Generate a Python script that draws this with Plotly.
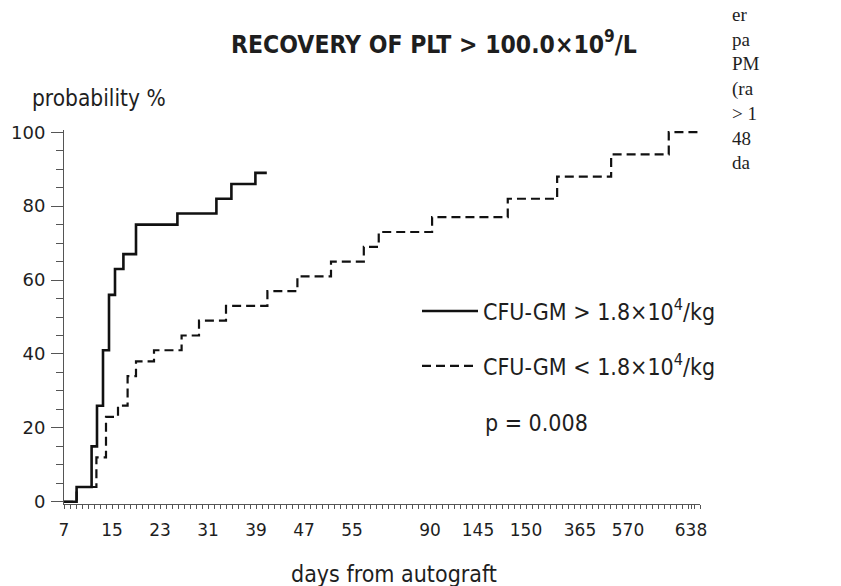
import numpy as np
import plotly.graph_objects as go

# ---- axis scale (non-linear day axis as printed) ----
tick_days = [7, 15, 23, 31, 39, 47, 55, 90, 145, 150, 365, 570, 638]
tick_index = [0, 8, 16, 24, 32, 40, 48, 61, 69, 77, 86, 94, 104.5]
y_ticks = [0, 20, 40, 60, 80, 100]

# ---- data: cumulative probability (%) of PLT recovery ----
high_days = [7, 9.1, 11.6, 12.5, 13.5, 14.5, 15.5, 16.9, 19.0, 25.9, 32.4, 34.9, 38.9, 40.8]
high_prob = [0, 4, 15, 26, 41, 56, 63, 67, 75, 78, 82, 86, 89, 89]

low_days = [7, 9.1, 12.4, 14.0, 16.0, 17.6, 19.0, 22.0, 26.6, 29.5, 34.0, 40.9, 45.9,
            51.5, 60.3, 67.0, 92.4, 148.1, 274, 498, 614, 646]
low_prob = [0, 4, 12, 23, 26, 34, 38, 41, 45, 49, 53, 57, 61,
            65, 69, 73, 77, 82, 88, 94, 100, 100]

side_text = ["er", "pa", "PM", "(ra", "> 1", "48", "da"]


def day_to_pos(d):
    d = np.asarray(d, float)
    p = np.interp(d, tick_days, tick_index)
    slope = (tick_index[-1] - tick_index[-2]) / (tick_days[-1] - tick_days[-2])
    return np.where(d > tick_days[-1], tick_index[-1] + (d - tick_days[-1]) * slope, p).tolist()


COND = "DejaVu Sans Condensed, Roboto, sans-serif"
DIGITS = "DejaVu Sans, sans-serif"
INK = "#1e1e1e"
AX = "#555555"

# page has an 8px body margin, so the figure is 833x578 and sits at (8, 8)
W, H = 833, 578
L, R, T, B = 56, 141, 122, 82
PW, PH = W - L - R, H - T - B


def px(xf):   # figure-pixel x -> paper
    return (xf - L) / PW


def py(yf):   # figure-pixel y -> paper
    return (H - B - yf) / PH


fig = go.Figure()
fig.add_trace(go.Scatter(
    x=day_to_pos(high_days), y=high_prob, mode="lines", line_shape="hv",
    line=dict(color="#111111", width=2.6),
    name="CFU-GM &gt; 1.8×10<sup>4</sup>/kg", legend="legend"))
fig.add_trace(go.Scatter(
    x=day_to_pos(low_days), y=low_prob, mode="lines", line_shape="hv",
    line=dict(color="#111111", width=2.2, dash="9px,5px"),
    name="CFU-GM &lt; 1.8×10<sup>4</sup>/kg", legend="legend2"))

fig.update_layout(
    width=W, height=H,
    margin=dict(l=L, r=R, t=T, b=B, autoexpand=False),
    paper_bgcolor="white", plot_bgcolor="white",
    showlegend=True,
    title=dict(text="<b>RECOVERY OF PLT &gt; 100.0×10<sup>9</sup>/L</b>",
               x=426 / W, xanchor="center", y=1 - 36 / H, yanchor="middle",
               font=dict(family=COND, size=24.5, color=INK)),
    legend=dict(xref="container", yref="container", x=409 / W, y=1 - 303 / H,
                xanchor="left", yanchor="middle", bgcolor="rgba(0,0,0,0)",
                itemwidth=56,
                font=dict(family=COND, size=23, color=INK)),
    legend2=dict(xref="container", yref="container", x=409 / W, y=1 - 358 / H,
                 xanchor="left", yanchor="middle", bgcolor="rgba(0,0,0,0)",
                 itemwidth=56,
                 font=dict(family=COND, size=23, color=INK)),
    xaxis=dict(range=[0, 106], showgrid=False, zeroline=False,
               showline=True, linecolor=AX, linewidth=1,
               tickmode="array", tickvals=tick_index, ticktext=[str(d) for d in tick_days],
               ticks="outside", ticklen=4, tickcolor=AX,
               minor=dict(dtick=1, tick0=0, ticks="outside", ticklen=4, tickcolor=AX),
               tickfont=dict(family=DIGITS, size=17, color=INK),
               ticklabelstandoff=7),
    yaxis=dict(range=[-0.6, 100.6], showgrid=False, zeroline=False,
               showline=True, linecolor=AX, linewidth=1,
               tickmode="array", tickvals=y_ticks,
               ticks="outside", ticklen=12, tickcolor=AX,
               minor=dict(dtick=5, tick0=0, ticks="outside", ticklen=7, tickcolor=AX),
               tickfont=dict(family=DIGITS, size=18, color=INK),
               ticklabelstandoff=2),
)

fig.add_annotation(text="probability %", xref="paper", yref="paper",
                   x=px(22), y=py(90), xanchor="left", yanchor="middle",
                   showarrow=False, font=dict(family=COND, size=22.5, color=INK))
fig.add_annotation(text="days from autograft", xref="paper", yref="paper",
                   x=px(386), y=py(566), xanchor="center", yanchor="middle",
                   showarrow=False, font=dict(family=COND, size=23, color=INK))
fig.add_annotation(text="p = 0.008", xref="paper", yref="paper",
                   x=px(475), y=py(415), xanchor="left", yanchor="middle",
                   showarrow=False, font=dict(family=COND, size=23, color=INK))
fig.add_annotation(text="<br>".join(side_text), xref="paper", yref="paper",
                   x=px(722), y=py(-6), xanchor="left", yanchor="top",
                   align="left", showarrow=False,
                   font=dict(family="Liberation Serif, DejaVu Serif, serif", size=19, color=INK))

fig.write_html("out.html")
